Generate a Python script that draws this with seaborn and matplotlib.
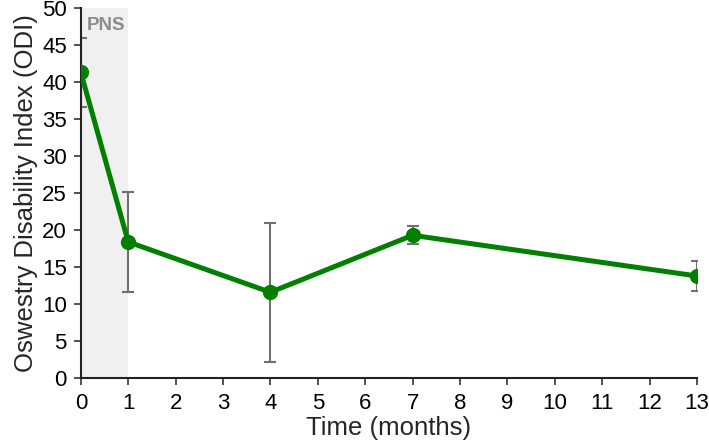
import numpy as np
import pandas as pd
import matplotlib
matplotlib.use('Agg')
import matplotlib.pyplot as plt
import seaborn as sns

months = [0, 1, 4, 7, 13]
odi_mean = [41.3, 18.4, 11.6, 19.3, 13.8]
odi_err = [4.7, 6.8, 9.4, 1.2, 2.0]

df = pd.DataFrame({'month': months, 'odi': odi_mean, 'err': odi_err})

sns.set_style('white')
plt.rcParams['font.family'] = ['Liberation Sans', 'DejaVu Sans']

fig, ax = plt.subplots(figsize=(7.09, 4.48), dpi=100)
fig.subplots_adjust(left=0.114, right=0.983, top=0.982, bottom=0.156)

# PNS window
ax.axvspan(0, 1, color='#f0f0f0', zorder=0, lw=0)
ax.text(0.12, 47.7, 'PNS', color='#8c8c8c', fontsize=13.5, fontweight='bold',
        va='center', ha='left')

ax.errorbar(df['month'], df['odi'], yerr=df['err'], fmt='none',
            ecolor='#707070', elinewidth=1.5, capsize=4, capthick=1.5, zorder=2)

sns.lineplot(data=df, x='month', y='odi', color='#008000', lw=3.6,
             marker='o', markersize=11, markeredgewidth=0, ax=ax, zorder=3)

ax.set_xlim(0, 13)
ax.set_ylim(0, 50)
ax.set_xticks(range(0, 14))
ax.set_yticks(range(0, 51, 5))
ax.tick_params(axis='both', labelsize=16, direction='out', length=5,
               width=1.2, color='#333333', labelcolor='black', bottom=True, left=True)
ax.tick_params(axis='x', pad=6)
ax.tick_params(axis='y', pad=5)
ax.set_xlabel('Time (months)', fontsize=18.5, labelpad=1)
ax.set_ylabel('Oswestry Disability Index (ODI)', fontsize=18.5, labelpad=3)

sns.despine(ax=ax)
for s in ['left', 'bottom']:
    ax.spines[s].set_color('#222222')
    ax.spines[s].set_linewidth(1.5)

plt.savefig('out.png', dpi=100)
